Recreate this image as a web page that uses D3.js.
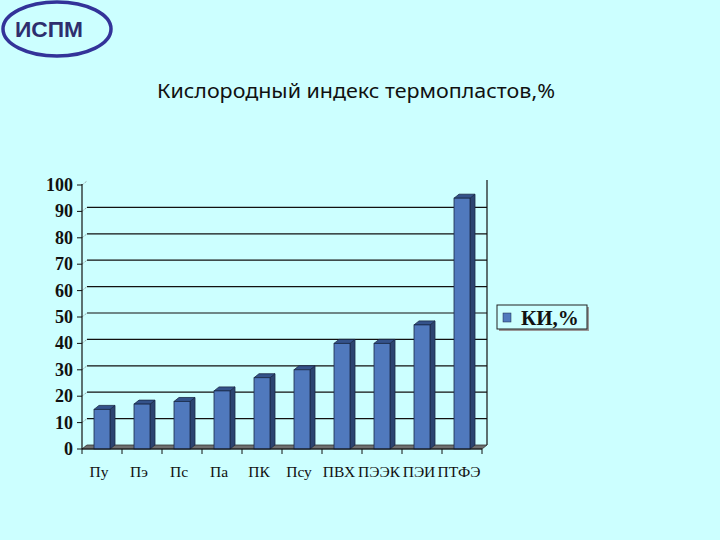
<!DOCTYPE html>
<html><head><meta charset="utf-8">
<script src="https://cdn.jsdelivr.net/npm/d3@7/dist/d3.min.js"></script>
<style>html,body{margin:0;padding:0;background:#ccffff;}svg{display:block;}</style>
</head><body>
<script>
const categories = ["Пу","Пэ","Пс","Па","ПК","Псу","ПВХ","ПЭЭК","ПЭИ","ПТФЭ"];
const values = [15,17,18,22,27,30,40,40,47,95];
const yTicks = [0,10,20,30,40,50,60,70,80,90,100];
const seriesName = "КИ,%";
const titleText = "Кислородный индекс термопластов,%";
const logoText = "ИСПМ";

const W=720,H=540;
const svg=d3.select("body").append("svg").attr("width",W).attr("height",H);
svg.append("rect").attr("width",W).attr("height",H).attr("fill","#ccffff");

// logo
svg.append("ellipse").attr("cx",57).attr("cy",29).attr("rx",54).attr("ry",27)
  .attr("fill","none").attr("stroke","#333399").attr("stroke-width",3.5);
svg.append("text").attr("x",49).attr("y",37).attr("text-anchor","middle")
  .attr("font-family","Liberation Sans, Arial, sans-serif").attr("font-weight","bold")
  .attr("font-size",22).attr("textLength",68).attr("lengthAdjust","spacingAndGlyphs")
  .attr("fill","#2e2e6e").text(logoText);

// title
svg.append("text").attr("x",157).attr("y",98).attr("textLength",398).attr("lengthAdjust","spacingAndGlyphs")
  .attr("font-family","Noto Sans, Open Sans, sans-serif").attr("font-size",19).attr("fill","#111")
  .text(titleText);

const DX=5, DY=-4;
const x=d3.scaleBand().domain(categories).range([82,482]);
const y=d3.scaleLinear().domain([0,100]).range([449,185]);
const g=svg.append("g");

// back wall gridlines
g.selectAll("line.grid").data(yTicks.filter(d=>d>0&&d<100)).join("line")
  .attr("x1",82+DX).attr("x2",482+DX).attr("y1",d=>y(d)+DY).attr("y2",d=>y(d)+DY)
  .attr("stroke","#111").attr("stroke-width",1.2);
// diagonal connectors
g.selectAll("line.diag").data(yTicks).join("line")
  .attr("x1",82).attr("x2",82+DX).attr("y1",d=>y(d)).attr("y2",d=>y(d)+DY)
  .attr("stroke","#777").attr("stroke-width",0.8).attr("stroke-dasharray","1,1");
// back right edge
g.append("line").attr("x1",482+DX).attr("x2",482+DX).attr("y1",y(100)+DY-1).attr("y2",y(0)+DY)
  .attr("stroke","#111").attr("stroke-width",1.2);

// floor
g.append("polygon").attr("points",[[82,y(0)],[482,y(0)],[482+DX,y(0)+DY],[82+DX,y(0)+DY]].map(p=>p.join(",")).join(" "))
  .attr("fill","#6e6e6e").attr("stroke","#333").attr("stroke-width",0.8);

// bars
const bw=16;
const bars=g.selectAll("g.bar").data(categories.map((c,i)=>({c,v:values[i]}))).join("g");
bars.each(function(d){
  const s=d3.select(this);
  const cx=x(d.c)+x.bandwidth()/2;
  const x0=cx-bw/2, x1=cx+bw/2, yt=y(d.v), yb=y(0);
  s.append("polygon").attr("points",[[x1,yt],[x1+DX,yt+DY],[x1+DX,yb+DY],[x1,yb]].map(p=>p.join(",")).join(" "))
    .attr("fill","#2c4470").attr("stroke","#1a2a48").attr("stroke-width",0.8);
  s.append("polygon").attr("points",[[x0,yt],[x0+DX,yt+DY],[x1+DX,yt+DY],[x1,yt]].map(p=>p.join(",")).join(" "))
    .attr("fill","#34528a").attr("stroke","#1a2a48").attr("stroke-width",0.8);
  s.append("rect").attr("x",x0).attr("y",yt).attr("width",bw).attr("height",yb-yt)
    .attr("fill","#5079bd").attr("stroke","#1a2a48").attr("stroke-width",0.8);
});

// y axis
g.append("line").attr("x1",82).attr("x2",82).attr("y1",y(100)-1).attr("y2",y(0)).attr("stroke","#111").attr("stroke-width",1.2);
g.selectAll("line.ytick").data(yTicks).join("line")
  .attr("x1",77).attr("x2",82).attr("y1",d=>y(d)).attr("y2",d=>y(d)).attr("stroke","#111");
g.selectAll("text.ylab").data(yTicks).join("text")
  .attr("x",73).attr("y",d=>y(d)+6).attr("text-anchor","end")
  .attr("font-family","Liberation Serif, Times New Roman, serif").attr("font-weight","bold").attr("font-size",18)
  .attr("fill","#111").text(d=>d);

// x axis
g.append("line").attr("x1",82).attr("x2",482).attr("y1",y(0)).attr("y2",y(0)).attr("stroke","#111").attr("stroke-width",1.2);
g.selectAll("line.xtick").data(d3.range(categories.length+1)).join("line")
  .attr("x1",i=>82+i*x.step()).attr("x2",i=>82+i*x.step()).attr("y1",y(0)).attr("y2",y(0)+5).attr("stroke","#111");
g.selectAll("text.xlab").data(categories).join("text")
  .attr("x",d=>x(d)+x.bandwidth()/2-3).attr("y",477).attr("text-anchor","middle")
  .attr("font-family","Liberation Serif, Times New Roman, serif").attr("font-size",15.5).attr("fill","#111").text(d=>d);

// legend
svg.append("rect").attr("x",499).attr("y",307).attr("width",90).attr("height",24).attr("fill","#999");
svg.append("rect").attr("x",497).attr("y",305).attr("width",90).attr("height",24).attr("fill","#ccffff").attr("stroke","#222").attr("stroke-width",1);
svg.append("rect").attr("x",503).attr("y",313).attr("width",8).attr("height",9).attr("fill","#5079bd").attr("stroke","#1a2a48").attr("stroke-width",0.5);
svg.append("text").attr("x",521).attr("y",325).attr("font-family","Liberation Serif, Times New Roman, serif")
  .attr("font-weight","bold").attr("font-size",21).attr("fill","#111").text(seriesName);
</script>
</body></html>
